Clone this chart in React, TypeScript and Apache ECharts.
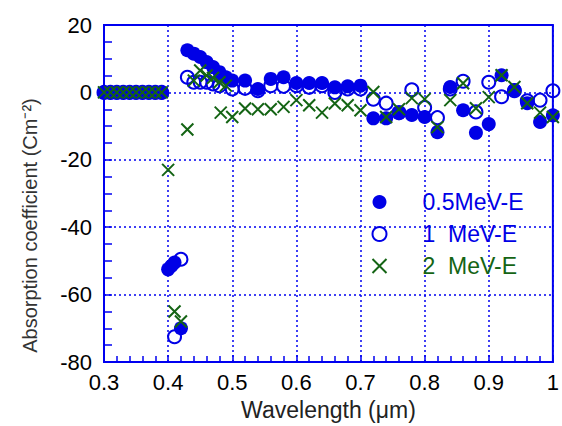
import React, { useEffect, useRef } from "react";
import * as echarts from "echarts";

// 0.5MeV-E (filled circles)
const x05 = [0.30, 0.31, 0.32, 0.33, 0.34, 0.35, 0.36, 0.37, 0.38, 0.39,
  0.40, 0.405, 0.41, 0.42, 0.43, 0.44, 0.45, 0.46, 0.47, 0.48, 0.49, 0.50,
  0.52, 0.54, 0.56, 0.58, 0.60, 0.62, 0.64, 0.66, 0.68, 0.70, 0.72, 0.74, 0.76, 0.78,
  0.80, 0.82, 0.84, 0.86, 0.88, 0.90, 0.92, 0.94, 0.96, 0.98, 1.00];
const y05 = [0, 0, 0, 0, 0, 0, 0, 0, 0, 0,
  -52.5, -51.5, -50.5, -70, 12.5, 11.5, 10.5, 9, 7.5, 6, 4.5, 3.5,
  3.5, 1, 4, 4.5, 2.8, 2.8, 2.8, 1.5, 1.8, 2, -7.7, -7.7, -6.2, -6.7,
  -7.3, -11.8, 1.6, -5.3, -12, -9.4, 5.1, 0.7, -3.2, -8.8, -6.8];

// 1 MeV-E (open circles)
const x1 = [0.30, 0.31, 0.32, 0.33, 0.34, 0.35, 0.36, 0.37, 0.38, 0.39,
  0.41, 0.42, 0.43, 0.44, 0.45, 0.46, 0.47, 0.48, 0.50,
  0.52, 0.54, 0.56, 0.58, 0.60, 0.62, 0.64, 0.66, 0.68, 0.70, 0.72, 0.74, 0.76, 0.78,
  0.80, 0.82, 0.84, 0.86, 0.88, 0.90, 0.92, 0.94, 0.96, 0.98, 1.00];
const y1 = [0, 0, 0, 0, 0, 0, 0, 0, 0, 0,
  -72.5, -49.5, 4.5, 3, 3, 3, 2.5, 2, 1,
  1.2, 0.5, 2, 1.8, 2, 1.5, 2, 0, 1, 1, -2, -3.2, -6, 0.8,
  -4.5, -7.5, 1, 3.3, -5.8, 3, -1.3, 0.5, -2.5, -2.3, 0.5];

// 2 MeV-E (crosses)
const x2 = [0.30, 0.31, 0.32, 0.33, 0.34, 0.35, 0.36, 0.37, 0.38, 0.39,
  0.40, 0.41, 0.42, 0.43, 0.44, 0.45, 0.46, 0.47, 0.48, 0.482, 0.49, 0.50,
  0.52, 0.54, 0.56, 0.58, 0.60, 0.62, 0.64, 0.66, 0.68, 0.70, 0.72, 0.74, 0.76, 0.78,
  0.80, 0.82, 0.84, 0.86, 0.88, 0.90, 0.92, 0.94, 0.96, 0.98, 1.00];
const y2 = [0, 0, 0, 0, 0, 0, 0, 0, 0, 0,
  -23, -65, -68, -11, 3.5, 6.5, 5, 4.3, 3, -6, 2, -7.3,
  -4.8, -5, -5, -4.3, -2.3, -3.8, -6, -3.3, -3.8, -5.3, 0.1, -7.3, -5, -1.7,
  -2, -10.3, -2.3, 2.7, -4.7, -1.4, 5.1, 1.6, -3.2, -6, -7.3];

const seriesNames = ["0.5MeV-E", "1  MeV-E", "2  MeV-E"];

const BLUE = "#0000e6";
const AXIS = "#0000f0";
const GREEN = "#146414";
const FONT = "Liberation Sans, Arial, sans-serif";
const CROSS = "path://M0,0L10,10M10,0L0,10";

const zip = (xs: number[], ys: number[]) => xs.map((x, i) => [x, ys[i]]);

export default function App() {
  const ref = useRef<HTMLDivElement>(null);
  useEffect(() => {
    if (!ref.current) return;
    const chart = echarts.init(ref.current, null, { renderer: "svg" });
    chart.setOption({
      animation: false,
      backgroundColor: "#ffffff",
      grid: {
        left: 104, right: 7, top: 25, bottom: 64,
        show: true, borderColor: AXIS, borderWidth: 2, backgroundColor: "transparent",
      },
      legend: {
        orient: "vertical",
        left: 365,
        top: 185,
        itemWidth: 76,
        itemHeight: 14,
        itemGap: 8,
        selectedMode: false,
        data: [
          { name: seriesNames[0], textStyle: { color: BLUE } },
          { name: seriesNames[1], textStyle: { color: BLUE } },
          { name: seriesNames[2], textStyle: { color: GREEN } },
        ],
        textStyle: { fontSize: 23, fontFamily: FONT, lineHeight: 24 },
      },
      xAxis: {
        type: "value",
        min: 0.3,
        max: 1,
        interval: 0.1,
        name: "Wavelength (μm)",
        nameLocation: "middle",
        nameGap: 36,
        nameTextStyle: { fontSize: 23, fontFamily: FONT, color: "#222" },
        axisLine: { show: true, onZero: false, lineStyle: { color: AXIS, width: 2 } },
        axisTick: { show: true, inside: true, length: 7, lineStyle: { color: AXIS, width: 1.5 } },
        minorTick: { show: true, splitNumber: 5, length: 6, lineStyle: { color: AXIS, width: 1.5 } },
        splitLine: { show: true, lineStyle: { color: AXIS, width: 1.5, type: [2, 3] } },
        axisLabel: {
          fontSize: 22, fontFamily: FONT, color: "#000", margin: 9,
          formatter: (v: number) => (Math.abs(v - 1) < 1e-9 ? "1" : v.toFixed(1)),
        },
      },
      yAxis: {
        type: "value",
        min: -80,
        max: 20,
        interval: 20,
        name: "Absorption coefficient (Cm⁻²)",
        nameLocation: "middle",
        nameGap: 64,
        nameTextStyle: { fontSize: 20, fontFamily: FONT, color: "#333", padding: [0, 64, 0, 0] },
        axisLine: { show: true, onZero: false, lineStyle: { color: AXIS, width: 2 } },
        axisTick: { show: true, inside: true, length: 8, lineStyle: { color: AXIS, width: 1.5 } },
        minorTick: { show: true, splitNumber: 4, length: 8, lineStyle: { color: AXIS, width: 1.5 } },
        splitLine: { show: true, lineStyle: { color: AXIS, width: 1.5, type: [2, 3] } },
        axisLabel: { fontSize: 22, fontFamily: FONT, color: "#000", margin: 12 },
      },
      series: [
        {
          name: seriesNames[1],
          type: "scatter",
          data: zip(x1, y1),
          symbol: "circle",
          symbolSize: 13,
          itemStyle: { color: "none", borderColor: BLUE, borderWidth: 2, opacity: 1 },
          z: 2,
        },
        {
          name: seriesNames[0],
          type: "scatter",
          data: zip(x05, y05),
          symbol: "circle",
          symbolSize: 14,
          itemStyle: { color: BLUE, opacity: 1 },
          z: 3,
        },
        {
          name: seriesNames[2],
          type: "scatter",
          data: zip(x2, y2),
          symbol: CROSS,
          symbolSize: 12,
          symbolKeepAspect: true,
          itemStyle: { color: "none", borderColor: GREEN, borderWidth: 2, opacity: 1 },
          z: 4,
        },
      ],
    });
    return () => chart.dispose();
  }, []);
  return (
    <div
      ref={ref}
      style={{ position: "fixed", left: 0, top: 0, width: 562, height: 426, background: "#fff" }}
    />
  );
}
